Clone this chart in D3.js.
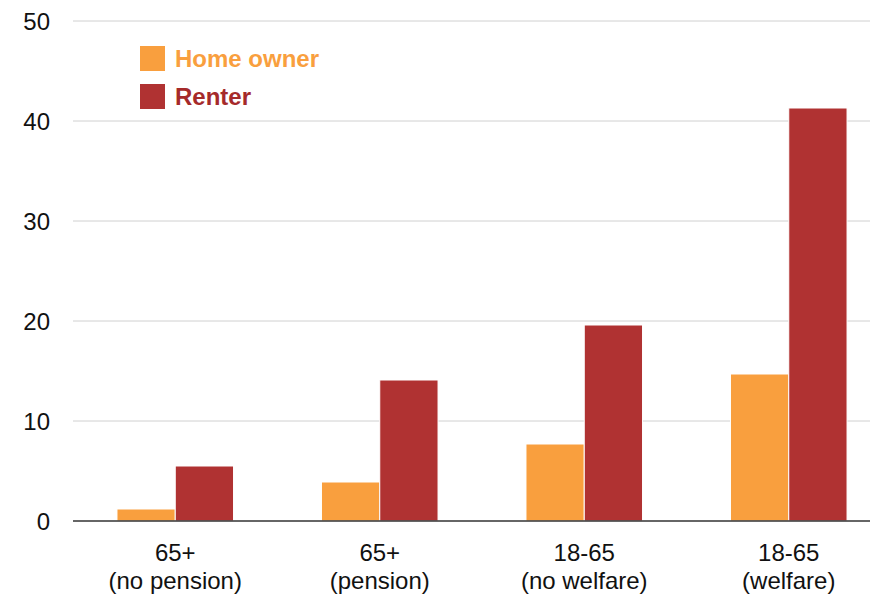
<!DOCTYPE html>
<html><head><meta charset="utf-8">
<script src="https://cdn.jsdelivr.net/npm/d3@7"></script>
<style>body{margin:0;background:#fff}svg{display:block}text{font-family:"Liberation Sans",Arial,sans-serif}</style>
</head><body><svg id="c" width="870" height="594"></svg>
<script>
const categories = [["65+","(no pension)"],["65+","(pension)"],["18-65","(no welfare)"],["18-65","(welfare)"]];
const seriesNames = ["Home owner","Renter"];
const homeOwner = [1.2, 3.9, 7.7, 14.7];
const renter = [5.5, 14.1, 19.6, 41.3];
const yTicks = [0, 10, 20, 30, 40, 50];
const colors = ["#F99F3E", "#B03232"];
const textColors = ["#F99F3E", "#A52A2A"];

const svg = d3.select("#c");
const y = d3.scaleLinear().domain([0, 50]).range([521, 21]);
const x0 = d3.scaleBand().domain(d3.range(categories.length)).range([73, 891]).paddingInner(0.43).paddingOuter(0.215);
const x1 = d3.scaleBand().domain([0, 1]).range([0, x0.bandwidth()]);

svg.append("g").selectAll("line").data(yTicks.filter(d => d > 0)).join("line")
  .attr("x1", 73).attr("x2", 870).attr("y1", d => y(d)).attr("y2", d => y(d))
  .attr("stroke", "#d0d0d0").attr("stroke-width", 1);

svg.append("g").selectAll("text").data(yTicks).join("text")
  .attr("x", 50).attr("y", d => y(d) + 9).attr("text-anchor", "end")
  .attr("font-size", 24).attr("fill", "#111").text(d => d);

const series = [homeOwner, renter];
const g = svg.append("g");
series.forEach((vals, si) => {
  g.selectAll(null).data(vals).join("rect")
    .attr("x", (d, i) => x0(i) + x1(si))
    .attr("y", d => y(d))
    .attr("width", x1.bandwidth())
    .attr("height", d => y(0) - y(d))
    .attr("fill", colors[si])
    .attr("stroke", "#fff").attr("stroke-width", 1);
});

svg.append("line").attr("x1", 73).attr("x2", 870).attr("y1", y(0)).attr("y2", y(0))
  .attr("stroke", "#333").attr("stroke-width", 1.5);

const xl = svg.append("g").selectAll("text").data(categories).join("text")
  .attr("text-anchor", "middle").attr("font-size", 24).attr("fill", "#111");
xl.append("tspan").attr("x", (d, i) => x0(i) + x0.bandwidth() / 2).attr("y", 561).text(d => d[0]);
xl.append("tspan").attr("x", (d, i) => x0(i) + x0.bandwidth() / 2).attr("y", 589).text(d => d[1]);

const leg = svg.append("g");
seriesNames.forEach((n, i) => {
  leg.append("rect").attr("x", 140).attr("y", 46 + i * 38).attr("width", 25).attr("height", 25).attr("fill", colors[i]);
  leg.append("text").attr("x", 175).attr("y", 67 + i * 38).attr("font-size", 24).attr("font-weight", "bold")
    .attr("fill", textColors[i]).text(n);
});
</script></body></html>
